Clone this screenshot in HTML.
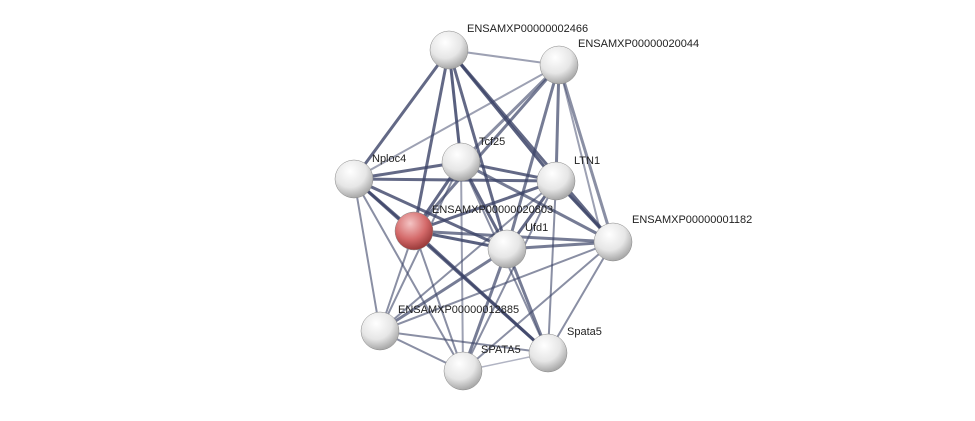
<!DOCTYPE html>
<html><head><meta charset="utf-8"><style>
body{margin:0;background:#fff;}
svg text{font-family:"Liberation Sans",sans-serif;font-size:11px;fill:#222;}
</style></head><body>
<svg width="975" height="416" viewBox="0 0 975 416" xmlns="http://www.w3.org/2000/svg">
<defs>
<radialGradient id="g" cx="40%" cy="30%" r="70%">
<stop offset="0" stop-color="#ffffff"/><stop offset="0.6" stop-color="#e6e6e6"/><stop offset="1" stop-color="#a8a8a8"/>
</radialGradient>
<radialGradient id="r" cx="40%" cy="30%" r="70%">
<stop offset="0" stop-color="#f4c4c4"/><stop offset="0.6" stop-color="#d46a6a"/><stop offset="1" stop-color="#9a3a3a"/>
</radialGradient>
</defs>
<g stroke="#3c4468" stroke-linecap="round">
<line x1="449" y1="50" x2="354" y2="179" stroke-width="3" stroke-opacity=".8"/>
<line x1="449" y1="50" x2="461" y2="162" stroke-width="3" stroke-opacity=".85"/>
<line x1="449" y1="50" x2="556" y2="181" stroke-width="3" stroke-opacity=".85"/>
<line x1="449" y1="50" x2="414" y2="231" stroke-width="3" stroke-opacity=".8"/>
<line x1="449" y1="50" x2="507" y2="249" stroke-width="3" stroke-opacity=".8"/>
<line x1="449" y1="50" x2="613" y2="242" stroke-width="3" stroke-opacity=".8"/>
<line x1="449" y1="50" x2="559" y2="65" stroke-width="2" stroke-opacity=".5"/>
<line x1="559" y1="65" x2="354" y2="179" stroke-width="2" stroke-opacity=".5"/>
<line x1="559" y1="65" x2="461" y2="162" stroke-width="3" stroke-opacity=".6"/>
<line x1="559" y1="65" x2="556" y2="181" stroke-width="3" stroke-opacity=".7"/>
<line x1="559" y1="65" x2="414" y2="231" stroke-width="3" stroke-opacity=".7"/>
<line x1="559" y1="65" x2="507" y2="249" stroke-width="3" stroke-opacity=".7"/>
<line x1="559" y1="65" x2="613" y2="242" stroke-width="3" stroke-opacity=".6"/>
<line x1="354" y1="179" x2="461" y2="162" stroke-width="3" stroke-opacity=".8"/>
<line x1="354" y1="179" x2="556" y2="181" stroke-width="3" stroke-opacity=".8"/>
<line x1="354" y1="179" x2="414" y2="231" stroke-width="3" stroke-opacity=".8"/>
<line x1="354" y1="179" x2="507" y2="249" stroke-width="3" stroke-opacity=".8"/>
<line x1="354" y1="179" x2="380" y2="331" stroke-width="2" stroke-opacity=".6"/>
<line x1="354" y1="179" x2="463" y2="371" stroke-width="2" stroke-opacity=".6"/>
<line x1="354" y1="179" x2="548" y2="353" stroke-width="3" stroke-opacity=".8"/>
<line x1="461" y1="162" x2="556" y2="181" stroke-width="3" stroke-opacity=".8"/>
<line x1="461" y1="162" x2="414" y2="231" stroke-width="3" stroke-opacity=".8"/>
<line x1="461" y1="162" x2="507" y2="249" stroke-width="3" stroke-opacity=".8"/>
<line x1="461" y1="162" x2="613" y2="242" stroke-width="3" stroke-opacity=".7"/>
<line x1="461" y1="162" x2="380" y2="331" stroke-width="2" stroke-opacity=".6"/>
<line x1="461" y1="162" x2="548" y2="353" stroke-width="2" stroke-opacity=".6"/>
<line x1="461" y1="162" x2="463" y2="371" stroke-width="2" stroke-opacity=".5"/>
<line x1="556" y1="181" x2="414" y2="231" stroke-width="3" stroke-opacity=".8"/>
<line x1="556" y1="181" x2="507" y2="249" stroke-width="3" stroke-opacity=".8"/>
<line x1="556" y1="181" x2="613" y2="242" stroke-width="3" stroke-opacity=".8"/>
<line x1="556" y1="181" x2="380" y2="331" stroke-width="2" stroke-opacity=".6"/>
<line x1="556" y1="181" x2="463" y2="371" stroke-width="2" stroke-opacity=".6"/>
<line x1="556" y1="181" x2="548" y2="353" stroke-width="2" stroke-opacity=".6"/>
<line x1="414" y1="231" x2="507" y2="249" stroke-width="3" stroke-opacity=".85"/>
<line x1="414" y1="231" x2="613" y2="242" stroke-width="3" stroke-opacity=".7"/>
<line x1="414" y1="231" x2="380" y2="331" stroke-width="2" stroke-opacity=".6"/>
<line x1="414" y1="231" x2="463" y2="371" stroke-width="2" stroke-opacity=".6"/>
<line x1="414" y1="231" x2="548" y2="353" stroke-width="3" stroke-opacity=".8"/>
<line x1="507" y1="249" x2="613" y2="242" stroke-width="3" stroke-opacity=".7"/>
<line x1="507" y1="249" x2="380" y2="331" stroke-width="3" stroke-opacity=".7"/>
<line x1="507" y1="249" x2="463" y2="371" stroke-width="3" stroke-opacity=".7"/>
<line x1="507" y1="249" x2="548" y2="353" stroke-width="3" stroke-opacity=".7"/>
<line x1="613" y1="242" x2="380" y2="331" stroke-width="2" stroke-opacity=".6"/>
<line x1="613" y1="242" x2="463" y2="371" stroke-width="2" stroke-opacity=".6"/>
<line x1="613" y1="242" x2="548" y2="353" stroke-width="2" stroke-opacity=".6"/>
<line x1="613" y1="242" x2="556" y2="181" stroke-width="2" stroke-opacity=".6"/>
<line x1="380" y1="331" x2="463" y2="371" stroke-width="2" stroke-opacity=".6"/>
<line x1="380" y1="331" x2="548" y2="353" stroke-width="2" stroke-opacity=".6"/>
<line x1="463" y1="371" x2="548" y2="353" stroke-width="1.5" stroke-opacity=".4"/>
<line x1="559" y1="65" x2="600" y2="230" stroke-width="2" stroke-opacity=".5"/>
</g>
<g stroke="#888" stroke-width=".5">
<circle cx="449" cy="50" r="19" fill="url(#g)"/>
<circle cx="559" cy="65" r="19" fill="url(#g)"/>
<circle cx="354" cy="179" r="19" fill="url(#g)"/>
<circle cx="461" cy="162" r="19" fill="url(#g)"/>
<circle cx="556" cy="181" r="19" fill="url(#g)"/>
<circle cx="414" cy="231" r="19" fill="url(#r)"/>
<circle cx="507" cy="249" r="19" fill="url(#g)"/>
<circle cx="613" cy="242" r="19" fill="url(#g)"/>
<circle cx="380" cy="331" r="19" fill="url(#g)"/>
<circle cx="463" cy="371" r="19" fill="url(#g)"/>
<circle cx="548" cy="353" r="19" fill="url(#g)"/>
</g>
<text x="467" y="32">ENSAMXP00000002466</text>
<text x="578" y="47">ENSAMXP00000020044</text>
<text x="372" y="162">Nploc4</text>
<text x="479" y="145">Tcf25</text>
<text x="574" y="164">LTN1</text>
<text x="432" y="213">ENSAMXP00000020803</text>
<text x="525" y="231">Ufd1</text>
<text x="632" y="223">ENSAMXP00000001182</text>
<text x="398" y="313">ENSAMXP00000012885</text>
<text x="481" y="353">SPATA5</text>
<text x="567" y="335">Spata5</text>
</svg>
</body></html>
